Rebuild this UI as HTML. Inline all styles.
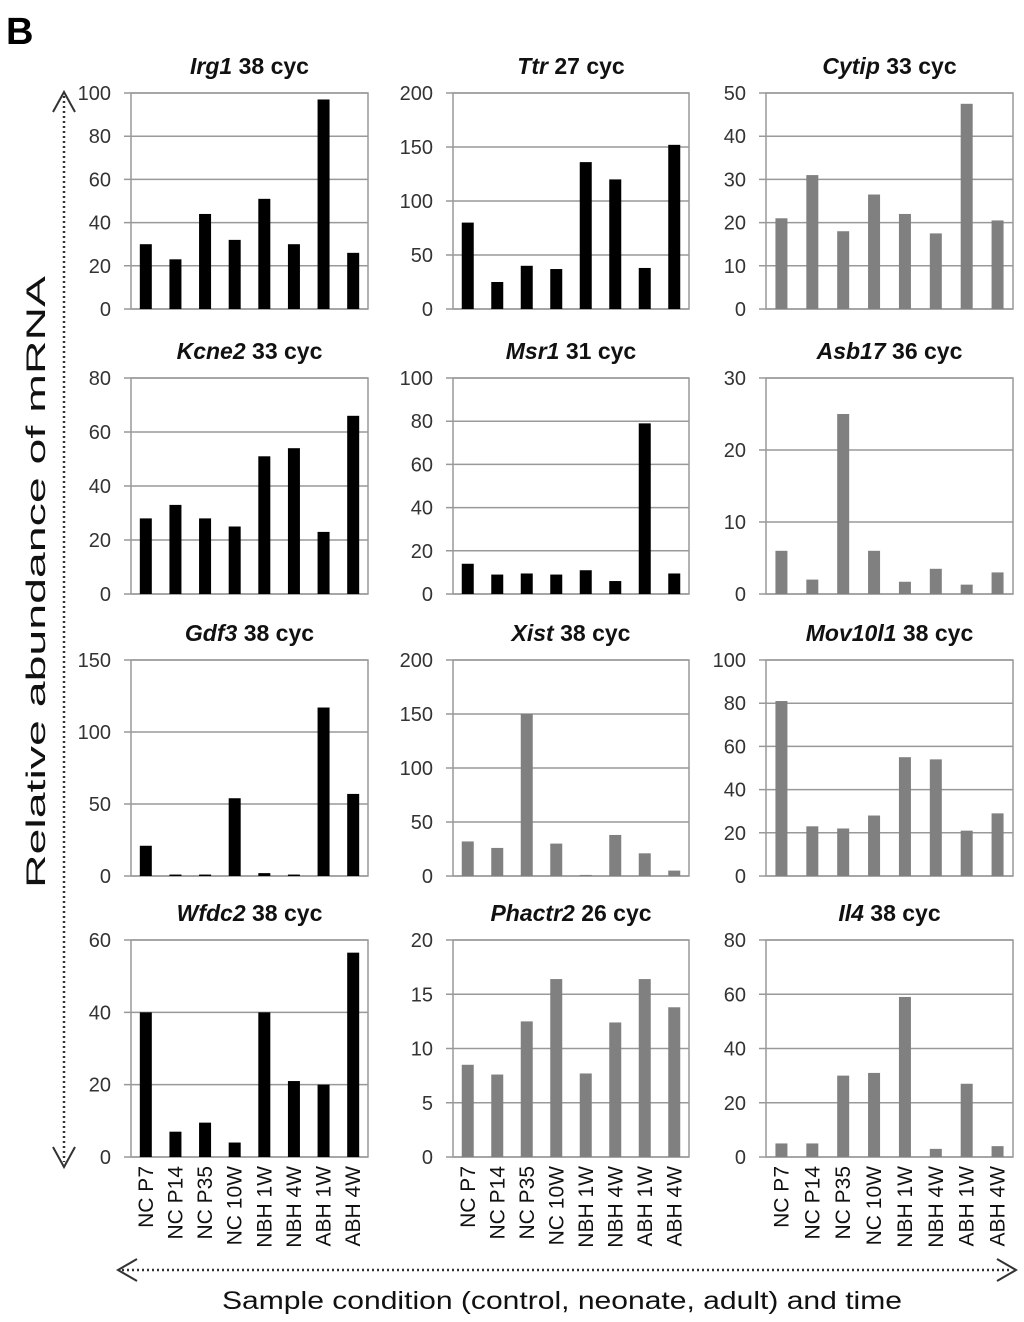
<!DOCTYPE html>
<html><head><meta charset="utf-8"><style>
html,body{margin:0;padding:0;background:#fff;width:1024px;height:1322px;overflow:hidden}
svg{display:block;font-family:"Liberation Sans",Arial,sans-serif}
</style></head><body>
<svg id="fig" width="1024" height="1322" viewBox="0 0 1024 1322">
<text x="6" y="44" font-size="38" font-weight="bold">B</text>
<line x1="64" y1="96" x2="64" y2="1162" stroke="#333" stroke-width="2.5" stroke-dasharray="2,3"/>
<polyline points="53,112 64,92 75,112" fill="none" stroke="#333" stroke-width="2"/>
<polyline points="53,1147 64,1167 75,1147" fill="none" stroke="#333" stroke-width="2"/>
<text transform="translate(45,888) rotate(-90)" font-size="27" fill="#111" textLength="612" lengthAdjust="spacingAndGlyphs">Relative abundance  of mRNA</text>
<line x1="122" y1="1270" x2="1012" y2="1270" stroke="#333" stroke-width="2.5" stroke-dasharray="2,3"/>
<polyline points="137,1259 118,1270 137,1281" fill="none" stroke="#333" stroke-width="2"/>
<polyline points="997,1259 1016,1270 997,1281" fill="none" stroke="#333" stroke-width="2"/>
<text x="222" y="1309" font-size="25" fill="#111" textLength="680" lengthAdjust="spacingAndGlyphs">Sample condition (control, neonate, adult) and time</text>
</svg>
<script>
const categories = ["NC P7","NC P14","NC P35","NC 10W","NBH 1W","NBH 4W","ABH 1W","ABH 4W"];
const geneNames = ["Irg1","Ttr","Cytip","Kcne2","Msr1","Asb17","Gdf3","Xist","Mov10l1","Wfdc2","Phactr2","Il4"];
const cycles = ["38","27","33","33","31","36","38","38","38","38","26","38"];
const yMax = [100,200,50,80,100,30,150,200,100,60,20,80];
const yStep = [20,50,10,20,20,10,50,50,20,20,5,20];
const irg1 = [30,23,44,32,51,30,97,26];
const ttr = [80,25,40,37,136,120,38,152];
const cytip = [21,31,18,26.5,22,17.5,47.5,20.5];
const kcne2 = [28,33,28,25,51,54,23,66];
const msr1 = [14,9,9.5,9,11,6,79,9.5];
const asb17 = [6,2,25,6,1.7,3.5,1.3,3];
const gdf3 = [21,1,1,54,2,1,117,57];
const xist = [32,26,150,30,1,38,21,5];
const mov10l1 = [81,23,22,28,55,54,21,29];
const wfdc2 = [40,7,9.5,4,40,21,20,56.5];
const phactr2 = [8.5,7.6,12.5,16.4,7.7,12.4,16.4,13.8];
const il4 = [5,5,30,31,59,3,27,4];
const seriesList = [irg1,ttr,cytip,kcne2,msr1,asb17,gdf3,xist,mov10l1,wfdc2,phactr2,il4];
const barColors = ["#000","#000","#808080","#000","#000","#808080","#000","#808080","#808080","#000","#808080","#808080"];

const NS="http://www.w3.org/2000/svg";
const svg=document.getElementById('fig');
const colL=[131,453,766], colR=[368,689,1013];
const rowT=[93,378,660,940], rowB=[309,594,876,1157];
function mk(tag,attrs,parent){const e=document.createElementNS(NS,tag);for(const k in attrs)e.setAttribute(k,attrs[k]);(parent||svg).appendChild(e);return e;}

geneNames.forEach((g,i)=>{
  const c=i%3, r=Math.floor(i/3);
  const L=colL[c],R=colR[c],T=rowT[r],B=rowB[r];
  const grp=mk('g',{});
  
  
  const yS=v=>B-(v/yMax[i])*(B-T);
  const slot=(R-L)/categories.length;
  const xS=k=>L+slot*(k+0.5);
  const t=mk('text',{x:(L+R)/2,y:T-19,'text-anchor':'middle','font-size':23,'font-weight':'bold',fill:'#111'},grp);
  
  
  const ti=mk('tspan',{'font-style':'italic'},t); ti.textContent=g;
  const tc=mk('tspan',{},t); tc.textContent=' '+cycles[i]+' cyc';
  for(let v=0;v<=yMax[i]+1e-9;v+=yStep[i]){
    const y=yS(v);
    const gl=mk('line',{x1:L-7,x2:R,y1:y,y2:y,stroke:'#999','stroke-width':1.5},grp);
    
    
    const tl=mk('text',{x:L-20,y:y+7,'text-anchor':'end','font-size':20,fill:'#333'},grp);
    
    
    tl.textContent=String(v);
  }
  const box=mk('rect',{x:L,y:T,width:R-L,height:B-T,fill:'none',stroke:'#999','stroke-width':1.5},grp);
  
  
  seriesList[i].forEach((v,k)=>{
    const bw=12;
    const b=mk('rect',{x:xS(k)-bw/2,y:yS(v),width:bw,height:B-yS(v),fill:barColors[i]},grp);
    
    
  });
  if(r===3){
    categories.forEach((cat,k)=>{
      const x=xS(k)+7;
      const xl=mk('text',{transform:`translate(${x},${B+9}) rotate(-90)`,'text-anchor':'end','font-size':21,fill:'#111'},grp);
      
      
      xl.textContent=cat;
    });
  }
});
</script>
</body></html>
